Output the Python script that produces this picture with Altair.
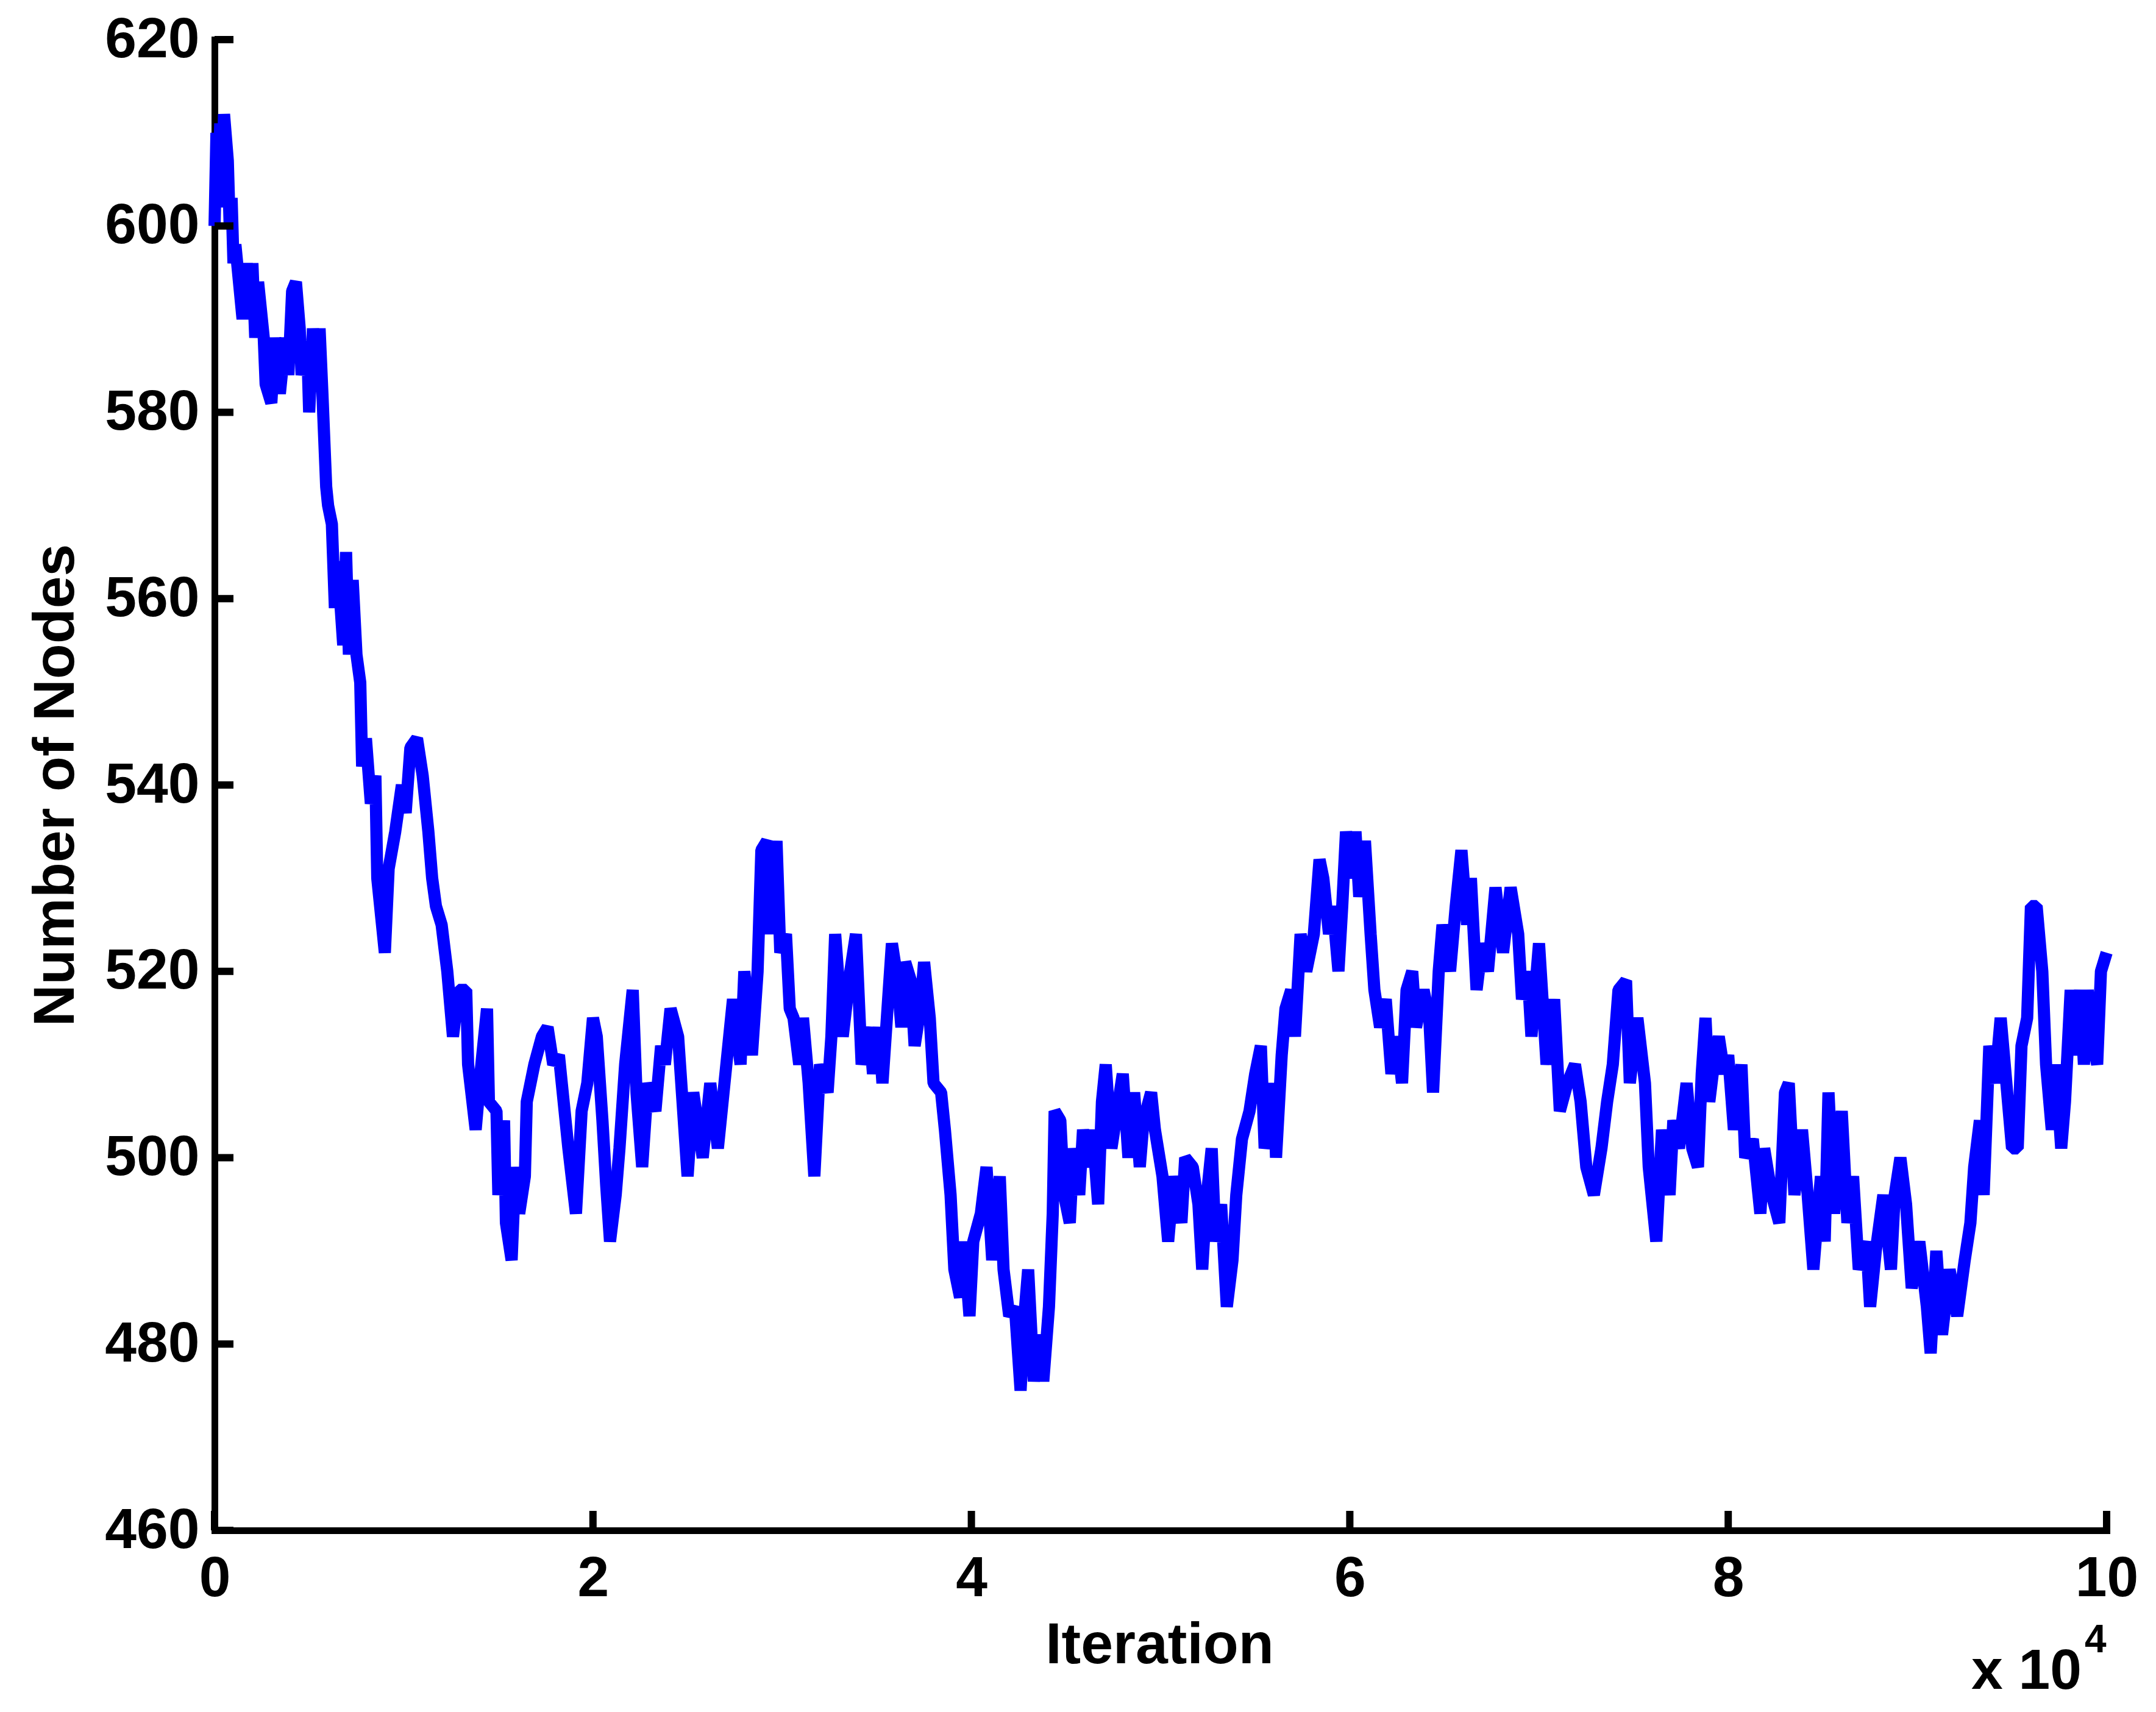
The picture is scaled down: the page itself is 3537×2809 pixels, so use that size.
import altair as alt
import pandas as pd

# Iteration (raw count) and number of nodes
iteration = [
    0, 100, 200, 300, 400, 500, 700, 800, 900, 1000, 1100, 1480, 1700, 1850, 2000, 2150, 2300,
    2600, 2700, 3000, 3200, 3450, 3750, 3900, 4100, 4300, 4500, 4600, 4900, 5000, 5200, 5400,
    5550, 5700, 5900, 6000, 6200, 6360, 6500, 6800, 6950, 7100, 7300, 7500, 7700, 7800, 8000,
    8260, 8500, 8600, 9000, 9200, 9550, 9900, 10100, 10350, 10700, 11000, 11300, 11500, 11700,
    12000, 12300, 12600, 12900, 13300, 13400, 13800, 14100, 14400, 14500, 14900, 15000, 15300,
    15400, 15700, 15900, 16100, 16400, 16500, 16900, 17300, 17600, 17900, 18200, 18500, 18700,
    19100, 19400, 19700, 20000, 20200, 20500, 20700, 20900, 21200, 21400, 21700, 22100, 22300,
    22600, 22900, 23300, 23600, 23800, 24100, 24500, 24700, 25000, 25300, 25800, 26200, 26600,
    26900, 27200, 27400, 27800, 28000, 28400, 28700, 28900, 29200, 29400, 29700, 29900, 30200,
    30400, 30600, 30900, 31100, 31400, 31700, 32000, 32400, 32600, 32800, 33200, 33600, 33900,
    34200, 34600, 34800, 35100, 35300, 35600, 35800, 36100, 36300, 36500, 36800, 37000, 37300,
    37500, 37800, 38000, 38400, 38600, 38900, 39100, 39400, 39600, 39900, 40100, 40500, 40800,
    41100, 41500, 41700, 42000, 42300, 42600, 42800, 43000, 43300, 43600, 43800, 44100, 44300,
    44400, 44700, 44900, 45200, 45400, 45700, 45900, 46200, 46400, 46700, 46900, 47100, 47400,
    47700, 48000, 48300, 48600, 48900, 49100, 49500, 49700, 50100, 50400, 50700, 51100, 51300,
    51700, 52000, 52200, 52400, 52700, 52900, 53200, 53500, 53800, 54000, 54300, 54700, 55000,
    55300, 55500, 55800, 56000, 56100, 56400, 56600, 56900, 57100, 57400, 57700, 58100, 58400,
    58600, 58900, 59100, 59400, 59600, 59800, 60100, 60300, 60500, 60800, 61100, 61300, 61600,
    61900, 62200, 62500, 62760, 63000, 63300, 63500, 63900, 64200, 64400, 64700, 64900, 65300,
    65600, 65900, 66200, 66400, 66700, 67000, 67300, 67700, 68100, 68500, 68900, 69100, 69400,
    69600, 70000, 70400, 70800, 71100, 71500, 71900, 72200, 72500, 72900, 73300, 73600, 73900,
    74200, 74600, 74800, 75200, 75600, 75800, 76200, 76500, 76900, 77100, 77400, 77800, 78100,
    78400, 78600, 78800, 79000, 79300, 79500, 79800, 80000, 80300, 80700, 80900, 81300, 81700,
    81900, 82300, 82700, 83000, 83200, 83500, 83900, 84200, 84500, 84900, 85100, 85300, 85600,
    86000, 86300, 86600, 86900, 87300, 87500, 87800, 88200, 88600, 88800, 89100, 89400, 89700,
    90100, 90500, 90700, 91000, 91300, 91700, 92100, 92500, 92800, 93000, 93300, 93500, 93800,
    94100, 94400, 94700, 95000, 95300, 95500, 95800, 96000, 96300, 96600, 96800, 97100, 97300,
    97600, 97800, 98100, 98300, 98600, 98800, 99000, 99200, 99500, 99700, 100000,
]
nodes = [
    600, 610, 603, 611, 602, 612, 607, 600, 603, 596, 598, 590, 596, 591, 596, 588, 594,
    588, 583, 581, 588, 582, 588, 584, 593, 594, 589, 584, 587, 580, 589, 583,
    589, 582, 572, 570, 568, 559, 564, 555, 565, 554, 562, 554, 551, 542, 545,
    538, 541, 530, 522, 531, 535, 540, 537, 544, 545, 541, 535, 530, 527,
    525, 520, 513, 518, 518, 510, 503, 510, 516, 506, 505, 496, 504,
    493, 489, 499, 494, 498, 506, 510, 513, 514, 510, 511, 505, 501,
    494, 505, 508, 515, 513, 504, 497, 491, 496, 501, 510, 518, 507,
    499, 508, 505, 512, 510, 516, 513, 507, 498, 507, 500, 508, 501,
    507, 513, 517, 510, 520, 511, 520, 533, 534, 524, 534, 522, 524,
    516, 515, 510, 515, 508, 498, 510, 507, 513, 524, 513, 520, 524,
    510, 514, 509, 514, 508, 517, 523, 519, 514, 521, 519, 512, 516,
    521, 515, 508, 507, 503, 496, 488, 485, 491, 483, 491, 494, 499,
    489, 498, 488, 483, 484, 475, 483, 488, 476, 481, 476, 484, 494,
    505, 504, 496, 493, 501, 496, 503, 499, 503, 495, 506, 510, 501,
    505, 509, 500, 507, 499, 504, 507, 503, 498, 491, 498, 493, 500,
    499, 495, 488, 495, 501, 491, 495, 484, 489, 496, 502, 505, 509,
    512, 501, 504, 508, 500, 511, 516, 518, 513, 524, 520, 524, 532,
    530, 524, 527, 520, 527, 535, 530, 535, 528, 534, 524, 518, 514,
    517, 509, 513, 508, 518, 520, 514, 518, 515, 507, 520, 525, 520,
    527, 533, 525, 530, 518, 523, 520, 529, 522, 529, 524, 517, 520,
    513, 523, 510, 517, 505, 508, 510, 506, 499, 496, 501, 506, 510,
    518, 519, 508, 515, 508, 499, 491, 503, 496, 504, 501, 508, 501,
    499, 509, 515, 506, 511, 513, 509, 511, 503, 510, 500, 502, 494,
    501, 496, 493, 507, 508, 496, 503, 496, 488, 498, 491, 507, 494,
    505, 493, 498, 488, 491, 484, 490, 496, 488, 496, 500, 495, 486,
    491, 484, 479, 490, 481, 488, 483, 489, 493, 499, 504, 496, 512,
    508, 515, 508, 501, 501, 512, 515, 527, 527, 520, 510, 503, 510,
    501, 506, 518, 511, 518, 510, 518, 513, 510, 520, 522,
]

y_ticks = [460, 480, 500, 520, 540, 560, 580, 600, 620]
x_ticks = [0, 20000, 40000, 60000, 80000, 100000]

W, H = 3104, 2446
FONT = "Liberation Sans"

df = pd.DataFrame({"iteration": iteration, "nodes": nodes, "i": list(range(len(nodes)))})

x_scale = alt.Scale(domain=[0, 100000], nice=False, zero=False)
y_scale = alt.Scale(domain=[460, 620], nice=False, zero=False)

common_axis = dict(
    domain=True, domainColor="black", domainWidth=11, domainCap="square",
    ticks=False, tickSize=0, grid=False,
    labelFont=FONT, labelFontSize=93, labelFontWeight="bold", labelColor="black",
    titleFont=FONT, titleFontSize=95, titleFontWeight="bold", titleColor="black",
    labelOverlap=False,
)

x_axis = alt.Axis(
    values=x_ticks, labelExpr="datum.value / 10000", title="Iteration",
    labelPadding=34, labelFlush=False,
    titleX=1550, titleY=217, titleBaseline="alphabetic", titleAlign="center",
    **common_axis)
y_axis = alt.Axis(
    values=y_ticks, title="Number of Nodes", labelPadding=25,
    titleAngle=-90, titleX=-232, titleY=1223, titleBaseline="alphabetic",
    titleAlign="center", **common_axis)

line = alt.Chart(df).mark_line(
    color="#0000FF", strokeWidth=20, strokeJoin="bevel"
).encode(
    x=alt.X("iteration:Q", scale=x_scale, axis=x_axis),
    y=alt.Y("nodes:Q", scale=y_scale, axis=y_axis),
    order="i:Q",
)

ytick_df = pd.DataFrame({"nodes": y_ticks})
xtick_df = pd.DataFrame({"iteration": x_ticks})

yt = alt.Chart(ytick_df).mark_rule(color="black", strokeWidth=12).encode(
    y=alt.Y("nodes:Q", scale=y_scale, axis=y_axis),
    x=alt.value(0), x2=alt.value(31),
)
xt = alt.Chart(xtick_df).mark_rule(color="black", strokeWidth=12).encode(
    x=alt.X("iteration:Q", scale=x_scale, axis=x_axis),
    y=alt.value(H), y2=alt.value(H - 32),
)

ann = alt.Chart(pd.DataFrame({"t": ["x 10"]})).mark_text(
    font=FONT, fontSize=93, fontWeight="bold", align="right",
    baseline="alphabetic", color="black"
).encode(text="t:N", x=alt.value(3063), y=alt.value(2706))

sup = alt.Chart(pd.DataFrame({"t": ["4"]})).mark_text(
    font=FONT, fontSize=64, fontWeight="bold", align="left",
    baseline="alphabetic", color="black"
).encode(text="t:N", x=alt.value(3068), y=alt.value(2646))

chart = alt.layer(line, yt, xt, ann, sup).properties(
    width=W, height=H,
    autosize=alt.AutoSizeParams(type="none"),
    padding={"left": 344, "top": 57, "right": 70, "bottom": 280},
    background="white",
).configure_view(stroke=None)

chart.save("out.html", embed_options={"renderer": "svg", "actions": False})
